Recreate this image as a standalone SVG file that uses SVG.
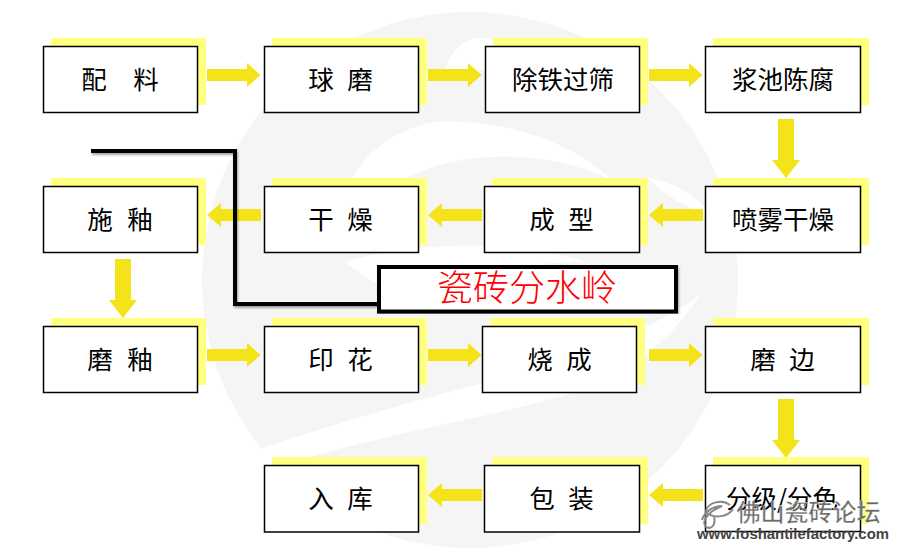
<svg xmlns="http://www.w3.org/2000/svg" width="897" height="549" viewBox="0 0 897 549">
<defs>
<style>
.s{fill:#ffff80}
.b{fill:#fff;stroke:#000;stroke-width:1.500}
.t{font-family:"Noto Sans CJK SC","Liberation Sans",sans-serif;font-size:25.500px;fill:#000;text-anchor:middle}
.a{fill:#f3e318}
.wm{fill:#f5f5f5}
.wh{fill:#fff}
</style>
<filter id="sh" x="-5%" y="-5%" width="110%" height="110%"><feDropShadow dx="1" dy="2" stdDeviation="1.200" flood-color="#000" flood-opacity="0.350"/></filter>
<path id="ar" d="M0 -6H40V-12L53.500 0L40 12V6H0Z"/>
<path id="al" d="M54 -6H14V-12L0 0L14 12V6H54Z"/>
<path id="ad" d="M-8 0H8V41H14L0 59L-14 41H-8Z"/>
</defs>
<g id="watermark">
<circle class="wm" cx="470" cy="280" r="268"/>
<path class="wh" d="M444 82C444 62 455 43 475 38C510 38 545 52 570 70C530 62 480 65 444 82Z"/>
<path class="wh" d="M335 225C342 170 385 130 435 122C500 118 570 140 612 180C560 155 495 150 440 165C395 178 360 200 335 225Z"/>
<path class="wh" d="M345 262C420 240 520 240 585 262C530 262 470 272 425 295C400 300 375 285 345 262Z"/>
<path class="wh" d="M257 450C330 425 400 405 457 390C540 368 630 345 700 295C665 350 620 375 573 393C480 420 380 435 300 460C330 490 360 520 390 549H190V440Z"/>
<path class="wh" d="M647 178C675 182 695 195 712 215C695 212 670 200 647 178Z"/>
</g>
<g id="connectors">
<use href="#ar" class="a" x="207" y="75"/>
<use href="#ar" class="a" x="428" y="75"/>
<use href="#ar" class="a" x="649" y="75"/>
<use href="#ad" class="a" x="786" y="119"/>
<use href="#al" class="a" x="649" y="215"/>
<use href="#al" class="a" x="428" y="215"/>
<use href="#al" class="a" x="207" y="215"/>
<use href="#ad" class="a" x="123" y="259"/>
<use href="#ar" class="a" x="207" y="355"/>
<use href="#ar" class="a" x="428" y="355"/>
<use href="#ar" class="a" x="649" y="355"/>
<use href="#ad" class="a" x="786" y="399"/>
<use href="#al" class="a" x="649" y="495"/>
<use href="#al" class="a" x="428" y="495"/>
</g>
<g id="n1"><rect class="s" x="51" y="38" width="155" height="67"/><rect class="b" x="43.500" y="46.500" width="154" height="66"/><text class="t" y="89"><tspan x="94">配</tspan><tspan x="146">料</tspan></text></g>
<g id="n2"><rect class="s" x="272" y="38" width="155" height="67"/><rect class="b" x="264.500" y="46.500" width="154" height="66"/><text class="t" y="89"><tspan x="321">球</tspan><tspan x="360">磨</tspan></text></g>
<g id="n3"><rect class="s" x="493" y="38" width="155" height="67"/><rect class="b" x="485.500" y="46.500" width="154" height="66"/><text class="t" x="563" y="89">除铁过筛</text></g>
<g id="n4"><rect class="s" x="713" y="38" width="156" height="67"/><rect class="b" x="705.500" y="46.500" width="155" height="66"/><text class="t" x="783" y="89">浆池陈腐</text></g>
<g id="n5"><rect class="s" x="713" y="178" width="156" height="67"/><rect class="b" x="705.500" y="186.500" width="155" height="66"/><text class="t" x="783" y="229">喷雾干燥</text></g>
<g id="n6"><rect class="s" x="492" y="178" width="156" height="67"/><rect class="b" x="484.500" y="186.500" width="155" height="66"/><text class="t" y="229"><tspan x="542">成</tspan><tspan x="581">型</tspan></text></g>
<g id="n7"><rect class="s" x="272" y="178" width="155" height="67"/><rect class="b" x="264.500" y="186.500" width="154" height="66"/><text class="t" y="229"><tspan x="321">干</tspan><tspan x="360">燥</tspan></text></g>
<g id="n8"><rect class="s" x="51" y="178" width="155" height="67"/><rect class="b" x="43.500" y="186.500" width="154" height="66"/><text class="t" y="229"><tspan x="100">施</tspan><tspan x="140">釉</tspan></text></g>
<g id="n9"><rect class="s" x="51" y="318" width="155" height="67"/><rect class="b" x="43.500" y="326.500" width="154" height="66"/><text class="t" y="369"><tspan x="100">磨</tspan><tspan x="140">釉</tspan></text></g>
<g id="n10"><rect class="s" x="272" y="318" width="155" height="67"/><rect class="b" x="264.500" y="326.500" width="154" height="66"/><text class="t" y="369"><tspan x="321">印</tspan><tspan x="360">花</tspan></text></g>
<g id="n11"><rect class="s" x="490" y="318" width="155" height="67"/><rect class="b" x="482.500" y="326.500" width="154" height="66"/><text class="t" y="369"><tspan x="540">烧</tspan><tspan x="579">成</tspan></text></g>
<g id="n12"><rect class="s" x="713" y="318" width="156" height="67"/><rect class="b" x="705.500" y="326.500" width="155" height="66"/><text class="t" y="369"><tspan x="763">磨</tspan><tspan x="802">边</tspan></text></g>
<g id="n13"><rect class="s" x="713" y="457" width="156" height="67"/><rect class="b" x="705.500" y="465.500" width="155" height="66"/><text class="t" x="782" y="508">分级/分色</text></g>
<g id="n14"><rect class="s" x="492" y="457" width="156" height="67"/><rect class="b" x="484.500" y="465.500" width="155" height="66.500"/><text class="t" y="508"><tspan x="542">包</tspan><tspan x="581">装</tspan></text></g>
<g id="n15"><rect class="s" x="272" y="457" width="155" height="67"/><rect class="b" x="264.500" y="465.500" width="154" height="66.500"/><text class="t" y="508"><tspan x="321">入</tspan><tspan x="360">库</tspan></text></g>
<g id="callout">
<path d="M91 151H235V304H379" fill="none" stroke="#000" stroke-width="4" filter="url(#sh)"/>
<rect x="379" y="267" width="297" height="44.500" fill="#fff" stroke="#000" stroke-width="4" filter="url(#sh)"/>
<text x="527" y="301" font-family="'Noto Sans CJK SC','Liberation Serif',serif" font-size="36" fill="#f00" text-anchor="middle" font-weight="300">瓷砖分水岭</text>
</g>
<g id="forum-mark">
<path d="M706 527C700 519 712 510 722 506C712 506 704 513 702 520M730 505C722 499 708 502 706 511C712 520 728 517 733 509M714 517C716 524 712 530 706 527" fill="none" stroke="#888" stroke-width="2"/>
<text x="808.500" y="521" font-family="'Noto Sans CJK SC',sans-serif" font-size="24" font-weight="500" fill="#6a6a6a" stroke="#fff" stroke-width="0.300" text-anchor="middle">佛山瓷砖论坛</text>
<text x="793" y="539" font-family="'Liberation Sans',sans-serif" font-size="14" font-weight="700" fill="#444" text-anchor="middle" textLength="192" lengthAdjust="spacingAndGlyphs">www.foshantilefactory.com</text>
</g>
</svg>
